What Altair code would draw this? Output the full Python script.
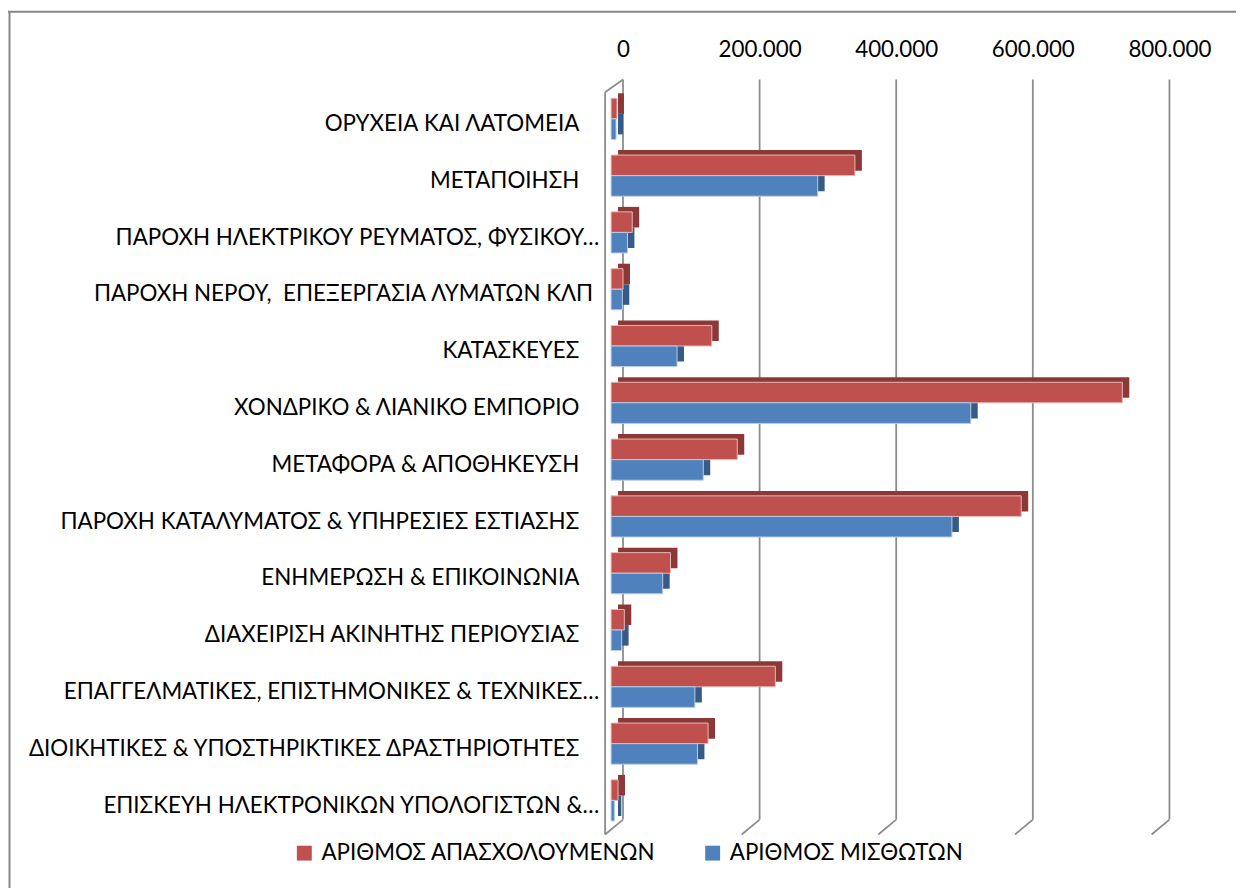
import altair as alt
import pandas as pd

categories = [
    "ΟΡΥΧΕΙΑ ΚΑΙ ΛΑΤΟΜΕΙΑ",
    "ΜΕΤΑΠΟΙΗΣΗ",
    "ΠΑΡΟΧΗ ΗΛΕΚΤΡΙΚΟΥ ΡΕΥΜΑΤΟΣ, ΦΥΣΙΚΟΥ…",
    "ΠΑΡΟΧΗ ΝΕΡΟΥ,  ΕΠΕΞΕΡΓΑΣΙΑ ΛΥΜΑΤΩΝ ΚΛΠ",
    "ΚΑΤΑΣΚΕΥΕΣ",
    "ΧΟΝΔΡΙΚΟ & ΛΙΑΝΙΚΟ ΕΜΠΟΡΙΟ",
    "ΜΕΤΑΦΟΡΑ & ΑΠΟΘΗΚΕΥΣΗ",
    "ΠΑΡΟΧΗ ΚΑΤΑΛΥΜΑΤΟΣ & ΥΠΗΡΕΣΙΕΣ ΕΣΤΙΑΣΗΣ",
    "ΕΝΗΜΕΡΩΣΗ & ΕΠΙΚΟΙΝΩΝΙΑ",
    "ΔΙΑΧΕΙΡΙΣΗ ΑΚΙΝΗΤΗΣ ΠΕΡΙΟΥΣΙΑΣ",
    "ΕΠΑΓΓΕΛΜΑΤΙΚΕΣ, ΕΠΙΣΤΗΜΟΝΙΚΕΣ & ΤΕΧΝΙΚΕΣ…",
    "ΔΙΟΙΚΗΤΙΚΕΣ & ΥΠΟΣΤΗΡΙΚΤΙΚΕΣ ΔΡΑΣΤΗΡΙΟΤΗΤΕΣ",
    "ΕΠΙΣΚΕΥΗ ΗΛΕΚΤΡΟΝΙΚΩΝ ΥΠΟΛΟΓΙΣΤΩΝ &…",
]
employed = [8700, 357000, 31000, 17500, 147500, 748500, 184800, 600500, 87000, 19400, 240500, 142000, 10200]
employees = [7300, 302500, 24000, 16500, 96600, 526600, 135000, 499000, 75600, 15500, 122700, 126500, 4800]
series_names = ["ΑΡΙΘΜΟΣ ΑΠΑΣΧΟΛΟΥΜΕΝΩΝ", "ΑΡΙΘΜΟΣ ΜΙΣΘΩΤΩΝ"]
x_ticks = [0, 200000, 400000, 600000, 800000]

rows = []
for c, a, b in zip(categories, employed, employees):
    rows.append({"cat": c, "series": series_names[0], "value": a})
    rows.append({"cat": c, "series": series_names[1], "value": b})
df = pd.DataFrame(rows)
cat_df = pd.DataFrame({"cat": categories})
grid_df = pd.DataFrame({"value": x_ticks})
one_df = pd.DataFrame({"value": [0]})

FONT = "Lato"
FS = 22.5
RED, RED_D = "#C0504D", "#8C3836"
BLUE, BLUE_D = "#4F81BD", "#375A86"
GRID = "#8C8C8C"

W, H = 550, 743.2
BAR_H = 20.7
PAD_L, PAD_T = 607, 85.4

xscale = alt.Scale(domain=[0, 800000], nice=False, zero=True)
yscale = alt.Scale(domain=categories, paddingInner=0.28, paddingOuter=0.14)
cscale = alt.Scale(domain=series_names, range=[RED, BLUE])

x_axis = alt.Axis(
    orient="top", values=x_ticks,
    labelExpr="replace(format(datum.value, ','), ',', '.')",
    grid=False, ticks=False, domain=False, labelPadding=34.5, labelOffset=12,
    labelFlush=False, labelFont=FONT, labelFontSize=FS, labelColor="#000000", title=None,
)
legend = alt.Legend(
    orient="none", legendX=-320, legendY=751, direction="horizontal", title=None,
    symbolType="square", symbolSize=225, symbolStrokeWidth=0, labelFont=FONT,
    labelFontSize=FS, labelColor="#000000", labelOffset=6, columnPadding=46,
    padding=0, labelLimit=0,
)

X = alt.X("value:Q", scale=xscale, axis=x_axis)
Y = alt.Y("cat:N", scale=yscale, axis=None)

base = alt.Chart(df)

def bars(idx, yoff, stroke, dark):
    b = base.transform_filter(alt.datum.series == series_names[idx])
    back = b.mark_bar(height=BAR_H, yOffset=yoff - 5, xOffset=7, x2Offset=4, color=dark).encode(
        x=X, y=Y,
    )
    front = b.mark_bar(height=BAR_H, yOffset=yoff, stroke=stroke, strokeWidth=1).encode(
        x=X, y=Y,
        color=alt.Color("series:N", scale=cscale, legend=legend),
    )
    return back, front

red_back, red_front = bars(0, -15.65, "#E6B9B8", RED_D)
blue_back, blue_front = bars(1, 5.05, "#B9CDE5", BLUE_D)

# category labels (right aligned; truncated ones reach further right)
cat_labels = alt.Chart(cat_df).transform_calculate(
    txt="replace(datum.cat, '  ', '\u00a0 ')",
    pad="indexof(datum.cat, '…') >= 0 ? -12 : (indexof(datum.cat, 'ΚΛΠ') >= 0 ? -18 : -32)",
).mark_text(align="right", baseline="middle", font=FONT, fontSize=FS, color="#000000").encode(
    y=Y, x=alt.X("pad:Q", scale=None), text="txt:N"
)

grid_v = alt.Chart(grid_df).mark_rule(color=GRID, strokeWidth=1.8, xOffset=12).encode(
    x=X, y=alt.value(-16.4), y2=alt.value(728.6)
)
grid_s = alt.Chart(grid_df).mark_rule(color=GRID, strokeWidth=1.8, xOffset=12, x2Offset=-6).encode(
    x=X, x2="value:Q", y=alt.value(728.6), y2=alt.value(743.6)
)
wall_outer = alt.Chart(one_df).mark_rule(color=GRID, strokeWidth=1.8, xOffset=-6).encode(
    x=X, y=alt.value(-3.4), y2=alt.value(743.6)
)
wall_top = alt.Chart(one_df).mark_rule(color=GRID, strokeWidth=1.8, xOffset=-6, x2Offset=12).encode(
    x=X, x2="value:Q", y=alt.value(-3.4), y2=alt.value(-16.4)
)
border_top = alt.Chart(one_df).mark_rule(color="#868686", strokeWidth=2).encode(
    x=alt.value(-PAD_L), x2=alt.value(640), y=alt.value(-84.4)
)
border_left = alt.Chart(one_df).mark_rule(color="#868686", strokeWidth=2).encode(
    x=alt.value(-PAD_L + 1.5), y=alt.value(-84.4), y2=alt.value(800)
)

chart = alt.layer(
    border_top, border_left, grid_v, grid_s, wall_outer, wall_top,
    red_back, blue_back, red_front, blue_front, cat_labels,
).properties(
    width=W, height=H,
    autosize=alt.AutoSizeParams(type="none"),
    padding={"left": PAD_L, "top": PAD_T, "right": 1236 - PAD_L - W, "bottom": 880 - PAD_T - H},
).configure_view(stroke=None)

chart.save("out.html", embed_options={"renderer": "svg", "actions": False})
